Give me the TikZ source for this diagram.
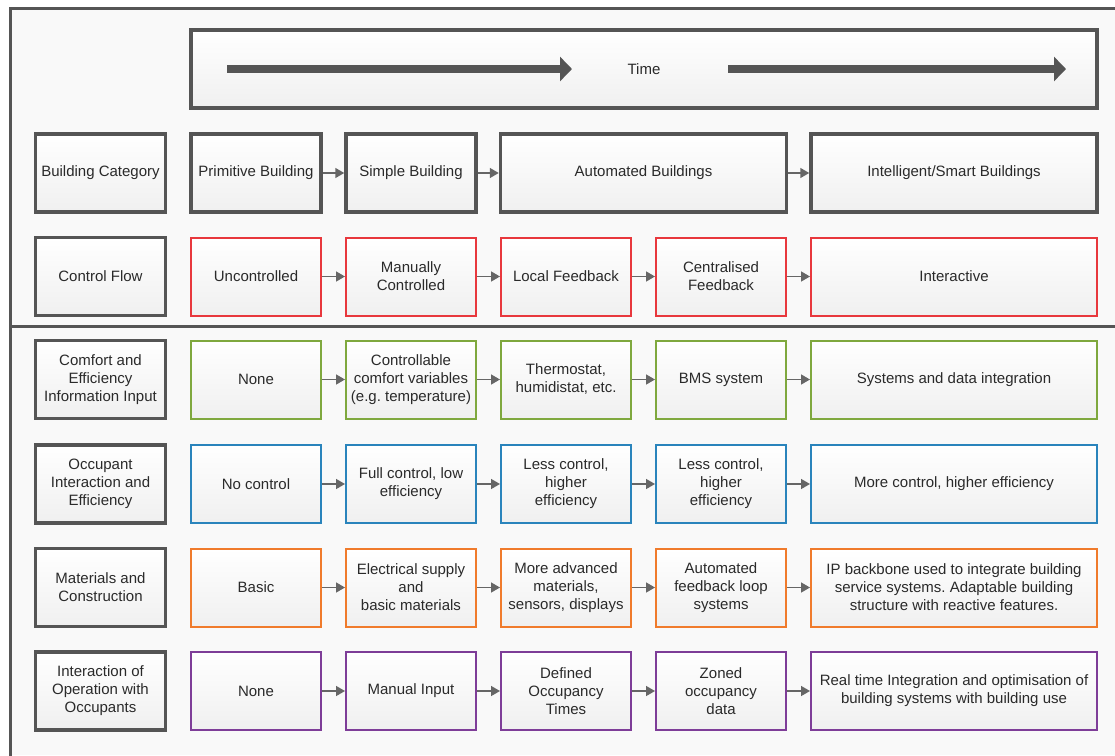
\documentclass[tikz,border=0pt]{standalone}
\usepackage{fontspec}
\setmainfont{Liberation Sans}
\frenchspacing
\usetikzlibrary{arrows.meta}
\definecolor{frame}{HTML}{555555}
\definecolor{txt}{HTML}{2A2A2A}
\definecolor{cred}{HTML}{E8383D}
\definecolor{cgreen}{HTML}{7FA83E}
\definecolor{cblue}{HTML}{2A84BC}
\definecolor{corange}{HTML}{F07B2C}
\definecolor{cpurple}{HTML}{7E3D98}
\tikzset{
  cell/.style={rectangle, align=center, text=txt, top color=white, bottom color=gray!12,
    minimum height=78, inner sep=2pt, font=\fontsize{15}{18}\selectfont},
  gbox/.style={cell, draw=frame, line width=3.5, minimum width=130},
  wbox/.style={cell, line width=2, minimum width=130},
  widebox/.style={cell, line width=2, minimum width=286},
  conn/.style={draw=frame!90, line width=1.5, -{Triangle[length=9,width=10]}},
  timearrow/.style={draw=frame, line width=8, -{Triangle[length=12,width=24]}}
}
\begin{document}
\begin{tikzpicture}[x=1pt,y=-1pt]
\useasboundingbox (0,0) rectangle (1115,755);
\fill[white] (0,0) rectangle (1115,755);
\fill[gray!5] (10,8) rectangle (1115,755);
\draw[frame, line width=3] (10,760) -- (10,8) -- (1120,8);
\draw[frame, line width=3] (10,326) -- (1120,326);
% time box
\node[cell, draw=frame, line width=3.5, minimum width=906, minimum height=78] (timebox) at (644,69) {Time};
\coordinate (ta1) at (227,69); \coordinate (ta2) at (572,69);
\coordinate (tb1) at (728,69); \coordinate (tb2) at (1066,69);
\draw[timearrow] (ta1) -- (ta2);
\draw[timearrow] (tb1) -- (tb2);
% row 1
\node[gbox] (l1) at (100.5,173) {Building Category};
\node[gbox] (a1) at (256,173) {Primitive Building};
\node[gbox] (b1) at (411,173) {Simple Building};
\node[gbox, minimum width=286] (c1) at (643.5,173) {Automated Buildings};
\node[gbox, minimum width=286] (e1) at (954,173) {Intelligent/Smart Buildings};
\draw[conn] (a1) -- (b1); \draw[conn] (b1) -- (c1); \draw[conn] (c1) -- (e1);
% row 2
\node[gbox] (l2) at (100.5,276.5) {Control Flow};
\node[wbox, draw=cred] (a2) at (256,276.5) {Uncontrolled};
\node[wbox, draw=cred] (b2) at (411,276.5) {Manually\\Controlled};
\node[wbox, draw=cred] (c2) at (566,276.5) {Local Feedback};
\node[wbox, draw=cred] (d2) at (721,276.5) {Centralised\\Feedback};
\node[widebox, draw=cred] (e2) at (954,276.5) {Interactive};
\draw[conn] (a2) -- (b2); \draw[conn] (b2) -- (c2); \draw[conn] (c2) -- (d2); \draw[conn] (d2) -- (e2);
% row 3
\node[gbox] (l3) at (100.5,379.5) {Comfort and\\Efficiency\\Information Input};
\node[wbox, draw=cgreen] (a3) at (256,379.5) {None};
\node[wbox, draw=cgreen] (b3) at (411,379.5) {Controllable\\comfort variables\\(e.g. temperature)};
\node[wbox, draw=cgreen] (c3) at (566,379.5) {Thermostat,\\humidistat, etc.};
\node[wbox, draw=cgreen] (d3) at (721,379.5) {BMS system};
\node[widebox, draw=cgreen] (e3) at (954,379.5) {Systems and data integration};
\draw[conn] (a3) -- (b3); \draw[conn] (b3) -- (c3); \draw[conn] (c3) -- (d3); \draw[conn] (d3) -- (e3);
% row 4
\node[gbox] (l4) at (100.5,484) {Occupant\\Interaction and\\Efficiency};
\node[wbox, draw=cblue] (a4) at (256,484) {No control};
\node[wbox, draw=cblue] (b4) at (411,484) {Full control, low\\efficiency};
\node[wbox, draw=cblue] (c4) at (566,484) {Less control,\\higher\\efficiency};
\node[wbox, draw=cblue] (d4) at (721,484) {Less control,\\higher\\efficiency};
\node[widebox, draw=cblue] (e4) at (954,484) {More control, higher efficiency};
\draw[conn] (a4) -- (b4); \draw[conn] (b4) -- (c4); \draw[conn] (c4) -- (d4); \draw[conn] (d4) -- (e4);
% row 5
\node[gbox] (l5) at (100.5,587.5) {Materials and\\Construction};
\node[wbox, draw=corange] (a5) at (256,587.5) {Basic};
\node[wbox, draw=corange] (b5) at (411,587.5) {Electrical supply\\and\\basic materials};
\node[wbox, draw=corange] (c5) at (566,587.5) {More advanced\\materials,\\sensors, displays};
\node[wbox, draw=corange] (d5) at (721,587.5) {Automated\\feedback loop\\systems};
\node[widebox, draw=corange] (e5) at (954,587.5) {IP backbone used to integrate building\\service systems. Adaptable building\\structure with reactive features.};
\draw[conn] (a5) -- (b5); \draw[conn] (b5) -- (c5); \draw[conn] (c5) -- (d5); \draw[conn] (d5) -- (e5);
% row 6
\node[gbox] (l6) at (100.5,691) {Interaction of\\Operation with\\Occupants};
\node[wbox, draw=cpurple] (a6) at (256,691) {None};
\node[wbox, draw=cpurple] (b6) at (411,691) {Manual Input};
\node[wbox, draw=cpurple] (c6) at (566,691) {Defined\\Occupancy\\Times};
\node[wbox, draw=cpurple] (d6) at (721,691) {Zoned\\occupancy\\data};
\node[widebox, draw=cpurple] (e6) at (954,691) {Real time Integration and optimisation of\\building systems with building use};
\draw[conn] (a6) -- (b6); \draw[conn] (b6) -- (c6); \draw[conn] (c6) -- (d6); \draw[conn] (d6) -- (e6);
\end{tikzpicture}
\end{document}
